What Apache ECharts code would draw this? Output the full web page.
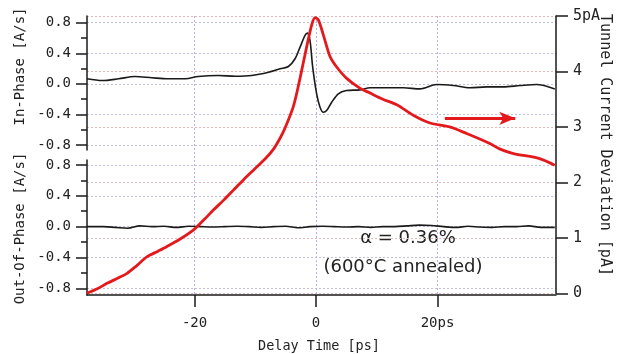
<!DOCTYPE html>
<html><head><meta charset="utf-8">
<script src="https://cdn.jsdelivr.net/npm/echarts@6/dist/echarts.min.js"></script>
<style>html,body{margin:0;padding:0;background:#fff}#c{width:618px;height:354px}</style>
</head><body><div id="c"></div>
<script>
// ---- data (delay time in ps) ----
const xMin = -37.7, xMax = 39.5;
const xTickValues = [-20, 0, 20];
const xTickLabels = ['-20', '0', '20ps'];
const phaseMin = -0.8, phaseMax = 0.8, phaseStep = 0.4;
const currentMin = 0, currentMax = 5, currentStep = 1;

// In-Phase [A/s]  (top panel, black)
const inPhase = [
  [-37.7,0.066],[-35.2,0.043],[-32.5,0.066],[-29.8,0.096],[-27,0.079],[-24.3,0.066],[-21.5,0.066],
  [-19.4,0.096],[-16.1,0.109],[-13.3,0.10],[-10.6,0.109],[-7.8,0.152],[-5.9,0.197],[-4.55,0.227],
  [-3.45,0.328],[-2.63,0.48],[-1.81,0.633],[-1.43,0.663],[-0.99,0.567],[-0.55,0.218],[0.1,-0.131],
  [0.66,-0.306],[1.2,-0.372],[1.75,-0.35],[2.58,-0.24],[3.67,-0.131],[5.0,-0.088],[7.2,-0.079],
  [8.9,-0.052],[11.6,-0.052],[14.4,-0.052],[17.1,-0.066],[19.85,-0.009],[22.6,-0.022],[25.3,-0.052],
  [28.1,-0.04],[30.8,-0.04],[33.6,-0.022],[36.3,-0.009],[39.3,-0.066]
];
// Out-Of-Phase [A/s] (bottom panel, black)
const outOfPhase = [
  [-37.7,0.0],[-35,0.0],[-33,-0.01],[-31,-0.02],[-29,0.01],[-27,0.0],[-25,0.005],[-23,-0.01],
  [-21,0.005],[-19,0.0],[-17,-0.005],[-15,0.0],[-13,0.005],[-11,0.0],[-9,-0.01],[-7,0.0],[-5,0.005],
  [-3,-0.015],[-1,0.0],[1,0.005],[3,0.0],[5,-0.005],[7,0.0],[9,-0.01],[11,0.0],[13,0.0],[15,0.01],
  [17,0.02],[19,0.015],[21,0.0],[23,-0.01],[25,0.005],[27,-0.005],[29,-0.01],[31,0.0],[33,0.0],
  [35,0.01],[37,-0.01],[39.3,-0.01]
];
// Tunnel Current Deviation [pA] (red, right axis)
const tunnelCurrent = [
  [-37.7,0.0],[-36,0.08],[-34.4,0.18],[-32.5,0.28],[-31.1,0.36],[-29.5,0.5],[-27.8,0.66],[-26,0.76],
  [-24.6,0.84],[-22.5,0.97],[-20.2,1.14],[-18.5,1.32],[-16.9,1.50],[-15.2,1.68],[-13.6,1.86],[-12,2.04],
  [-10.3,2.22],[-8.4,2.42],[-7.0,2.6],[-5.9,2.8],[-5.1,2.98],[-3.7,3.38],[-2.63,3.88],[-1.53,4.45],
  [-0.71,4.84],[-0.16,4.97],[0.38,4.93],[1.2,4.66],[2.3,4.27],[3.4,4.08],[5.0,3.88],[7.2,3.70],
  [8.9,3.61],[11,3.50],[13.3,3.40],[16.0,3.21],[18.75,3.07],[22.0,3.0],[24.8,2.88],[28.6,2.70],
  [30.3,2.60],[32.5,2.52],[36.8,2.43],[39.3,2.31]
];
const arrowFrom = [21.2, 3.155], arrowTo = [32.8, 3.155];

// ---- chart ----
const FONT = 'DejaVu Sans Mono';
const BLACK = '#1a1a1a', RED = '#e3191c';
const L = 87, R = 62;

function hiddenX(gi) {
  return { gridIndex: gi, type: 'value', min: xMin, max: xMax, show: false,
    axisLine: { onZero: false } };
}
function phaseY(gi) {
  return {
    gridIndex: gi, type: 'value', position: 'left', min: phaseMin, max: phaseMax, interval: phaseStep,
    axisLine: { show: false, onZero: false },
    axisTick: { show: true, inside: false, length: 11, lineStyle: { color: BLACK, width: 1.5 } },
    minorTick: { show: true, splitNumber: 2, length: 6, lineStyle: { color: BLACK, width: 1.5 } },
    axisLabel: { margin: 16, color: '#222', fontFamily: FONT, fontSize: 14,
      formatter: v => (Math.abs(v) < 1e-9 ? 0 : v).toFixed(1) },
    splitLine: { show: true, lineStyle: { color: '#bfbfd9', type: [2, 2], width: 1 } }
  };
}
function frameY(gi) {
  return { gridIndex: gi, type: 'value', position: 'left', min: 0, max: 1,
    axisLine: { show: true, onZero: false, lineStyle: { color: BLACK, width: 1.5 } },
    axisTick: { show: false }, axisLabel: { show: false }, splitLine: { show: false } };
}

const option = {
  animation: false,
  backgroundColor: '#fff',
  grid: [
    { left: L, right: R, top: 16, bottom: 59 },              // 0: main / x axis
    { left: L, right: R, top: 22.7, height: 122.3 },         // 1: in-phase
    { left: L, right: R, top: 165, height: 123.3 },          // 2: out-of-phase
    { left: L, right: R, top: 16, height: 277.3 },           // 3: tunnel current
    { left: L, right: R, top: 16, height: 134 },             // 4: frame top panel
    { left: L, right: R, top: 160, height: 135 }             // 5: frame bottom panel
  ],
  xAxis: [
    { gridIndex: 0, type: 'value', min: xMin, max: xMax, position: 'bottom',
      axisLine: { show: true, onZero: false, lineStyle: { color: BLACK, width: 1.5 } },
      axisTick: { show: true, customValues: xTickValues, length: 12, lineStyle: { color: BLACK, width: 1.5 } },
      axisLabel: { customValues: xTickValues, margin: 21, color: '#222', fontFamily: FONT, fontSize: 14,
        formatter: v => xTickLabels[xTickValues.indexOf(v)] },
      splitLine: { show: true, lineStyle: { color: '#b3b3e8', type: [2, 2], width: 1 } }
    },
    hiddenX(1), hiddenX(2), hiddenX(3), hiddenX(4), hiddenX(5)
  ],
  yAxis: [
    { gridIndex: 0, type: 'value', min: 0, max: 1, show: false, axisLine: { onZero: false } },
    phaseY(1),
    phaseY(2),
    { gridIndex: 3, type: 'value', position: 'right', min: currentMin, max: currentMax, interval: currentStep,
      axisLine: { show: true, onZero: false, lineStyle: { color: BLACK, width: 1.5 } },
      axisTick: { show: true, length: 12, lineStyle: { color: BLACK, width: 1.5 } },
      axisLabel: { margin: 17, color: '#222', fontFamily: FONT, fontSize: 15,
        formatter: v => v === currentMax ? v + 'pA' : String(v) },
      splitLine: { show: true, lineStyle: { color: '#e2b9b9', type: [2, 2], width: 1 } }
    },
    frameY(4),
    frameY(5)
  ],
  series: [
    { name: 'In-Phase', type: 'line', xAxisIndex: 1, yAxisIndex: 1, data: inPhase,
      showSymbol: false, smooth: 0.3, silent: true, z: 3,
      lineStyle: { color: BLACK, width: 1.6 } },
    { name: 'Out-Of-Phase', type: 'line', xAxisIndex: 2, yAxisIndex: 2, data: outOfPhase,
      showSymbol: false, smooth: 0.3, silent: true, z: 3,
      lineStyle: { color: BLACK, width: 1.6 } },
    { name: 'Tunnel Current', type: 'line', xAxisIndex: 3, yAxisIndex: 3, data: tunnelCurrent,
      showSymbol: false, smooth: 0.3, silent: true, z: 5,
      lineStyle: { color: RED, width: 2.8 },
      markLine: { silent: true, animation: false, label: { show: false },
        lineStyle: { color: RED, width: 3, type: 'solid' },
        data: [[ { coord: arrowFrom, symbol: 'none' }, { coord: arrowTo, symbol: 'arrow', symbolSize: [10, 16] } ]] }
    }
  ],
  graphic: [
    { type: 'text', x: 20, y: 66.5, rotation: Math.PI / 2,
      style: { text: 'In-Phase [A/s]', font: '14px "DejaVu Sans Mono"', fill: '#222', align: 'center', verticalAlign: 'middle' } },
    { type: 'text', x: 20, y: 228.5, rotation: Math.PI / 2,
      style: { text: 'Out-Of-Phase [A/s]', font: '14px "DejaVu Sans Mono"', fill: '#222', align: 'center', verticalAlign: 'middle' } },
    { type: 'text', x: 605, y: 145, rotation: -Math.PI / 2,
      style: { text: 'Tunnel Current Deviation [pA]', font: '15px "DejaVu Sans Mono"', fill: '#222', align: 'center', verticalAlign: 'middle' } },
    { type: 'text', x: 319, y: 346,
      style: { text: 'Delay Time [ps]', font: '13.5px "DejaVu Sans Mono"', fill: '#222', align: 'center', verticalAlign: 'middle' } },
    { type: 'text', x: 408, y: 238,
      style: { text: 'α = 0.36%', font: '18px "DejaVu Sans"', fill: '#222', align: 'center', verticalAlign: 'middle' } },
    { type: 'text', x: 403, y: 267,
      style: { text: '(600°C annealed)', font: '18px "DejaVu Sans"', fill: '#222', align: 'center', verticalAlign: 'middle' } }
  ]
};
const chart = echarts.init(document.getElementById('c'), null, { renderer: 'canvas' });
chart.setOption(option);
</script>
</body></html>
